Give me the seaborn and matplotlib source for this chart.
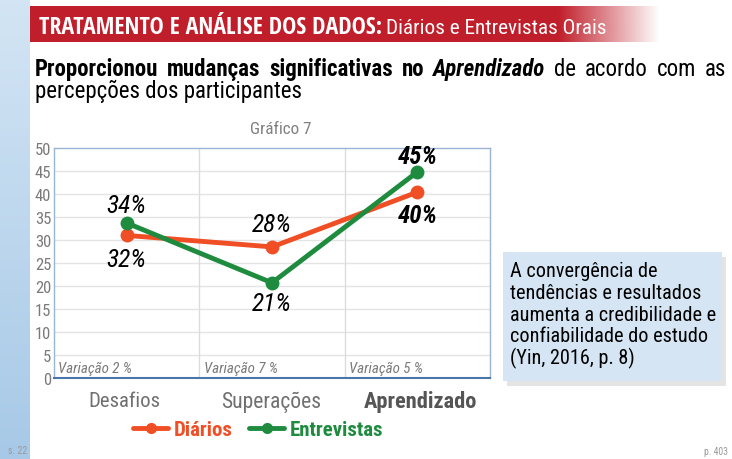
import numpy as np
import pandas as pd
import seaborn as sns
import matplotlib
matplotlib.use("Agg")
import matplotlib.pyplot as plt
from matplotlib.lines import Line2D
from matplotlib.patches import FancyBboxPatch
from matplotlib import font_manager

# ---------------- data ----------------
categories = ["Desafios", "Superações", "Aprendizado"]
diarios = [31.0, 28.5, 40.4]
entrevistas = [33.7, 20.7, 44.8]
diarios_labels = ["32%", "28%", "40%"]
entrevistas_labels = ["34%", "21%", "45%"]
variacao = ["Variação 2 %", "Variação 7 %", "Variação 5 %"]
yticks = [0, 5, 10, 15, 20, 25, 30, 35, 40, 45, 50]

NARROW = "Roboto Condensed"
_names = {f.name for f in font_manager.fontManager.ttflist}
HEAD = "Open Sans Condensed" if "Open Sans Condensed" in _names else "Carlito"

sns.set_theme(style="white")
plt.rcParams["font.family"] = [NARROW, "DejaVu Sans"]

W, H = 732, 460
fig = plt.figure(figsize=(W / 100, H / 100), dpi=100)
fig.patch.set_facecolor("white")
fig.canvas.draw()
R = fig.canvas.get_renderer()


def fx(px):
    return px / W


def fy(py):
    return 1 - py / H


def fit(t, width):
    """scale font size so the text has the given pixel width"""
    w = t.get_window_extent(R).width
    t.set_fontsize(t.get_fontsize() * width / w)
    return t


# left blue strip
strip = fig.add_axes([0, 0, fx(30), 1])
grad = np.linspace(0, 1, 100).reshape(-1, 1)
strip.imshow(grad, aspect="auto", cmap=matplotlib.colors.LinearSegmentedColormap.from_list(
    "s", ["#d3e5f4", "#a7c9e7"]), extent=[0, 1, 0, 1])
strip.axis("off")

# red banner with fade
ban = fig.add_axes([fx(30), fy(43), fx(660 - 30), (43 - 7) / H])
n = 600
rgba = np.zeros((1, n, 4))
rgba[..., 0] = 0xC0 / 255
rgba[..., 1] = 0x1E / 255
rgba[..., 2] = 0x2A / 255
xs = np.linspace(0, 1, n)
alpha = np.where(xs < 0.84, 1, np.clip((1 - xs) / 0.16, 0, 1))
rgba[..., 3] = alpha
ban.imshow(rgba, aspect="auto", extent=[0, 1, 0, 1])
ban.axis("off")

t1 = fig.text(fx(39), fy(34), "TRATAMENTO E ANÁLISE DOS DADOS:", color="white",
              fontsize=15, fontweight="bold", va="baseline", ha="left", family=HEAD)
fit(t1, 343)
t2 = fig.text(fx(386), fy(34), "Diários e Entrevistas Orais", color="white",
              fontsize=15, va="baseline", ha="left")
fit(t2, 221)

# subtitle, justified first line
words = [("Proporcionou", "bold", "normal"), ("mudanças", "bold", "normal"),
         ("significativas", "bold", "normal"), ("no", "bold", "normal"),
         ("Aprendizado", "bold", "italic"), ("de", "normal", "normal"),
         ("acordo", "normal", "normal"), ("com", "normal", "normal"), ("as", "normal", "normal")]
tobjs = []
for w, fw, fs in words:
    t = fig.text(0, fy(76), w, fontsize=16.5, fontweight=fw, fontstyle=fs,
                 color="black", va="baseline", ha="left")
    tobjs.append(t)
fig.canvas.draw()
widths = [t.get_window_extent(R).width for t in tobjs]
x0, x1 = 35, 726
gap = (x1 - x0 - sum(widths)) / (len(words) - 1)
x = x0
for t, wd in zip(tobjs, widths):
    t.set_x(fx(x))
    x += wd + gap
fig.text(fx(35), fy(98), "percepções dos participantes", fontsize=16.5,
         color="black", va="baseline", ha="left")

# ---------------- chart ----------------
ax = fig.add_axes([fx(54), fy(379), fx(490 - 54), (379 - 149) / H])
df = pd.DataFrame({
    "pos": list(range(len(categories))) * 2,
    "valor": diarios + entrevistas,
    "serie": ["Diários"] * 3 + ["Entrevistas"] * 3,
})
palette = {"Diários": "#F04E25", "Entrevistas": "#1E8B3F"}
sns.lineplot(data=df, x="pos", y="valor", hue="serie", palette=palette,
             marker="o", markersize=10, markeredgewidth=0, linewidth=3.5,
             legend=False, ax=ax, zorder=3)
ax.set_xlim(-0.5, 2.5)
ax.set_ylim(0, 50)
ax.set_yticks(yticks)
ax.set_yticklabels([str(v) for v in yticks], color="#7a7a7a", fontsize=12)
ax.set_xticks([])
ax.set_xlabel("")
ax.set_ylabel("")
ax.tick_params(axis="y", length=0, pad=2)
for v in yticks[1:-1]:
    ax.axhline(v, color="#e4e4e4", lw=1, zorder=0)
for v in [0.5, 1.5]:
    ax.axvline(v, color="#dcdcdc", lw=1, zorder=0)
for s in ["top", "right", "left"]:
    ax.spines[s].set_color("#9bb5d8")
    ax.spines[s].set_linewidth(1)
ax.spines["bottom"].set_color("#4a76ad")
ax.spines["bottom"].set_linewidth(1.5)

# data labels (offsets in data units: above / below the point)
above = [3.9, 4.9, 3.5]
below = [-5.1, -4.4, -5.0]
for i in range(3):
    fw = "bold" if i == 2 else "normal"
    if entrevistas[i] >= diarios[i]:
        pairs = [(entrevistas[i] + above[i], entrevistas_labels[i]),
                 (diarios[i] + below[i], diarios_labels[i])]
    else:
        pairs = [(diarios[i] + above[i], diarios_labels[i]),
                 (entrevistas[i] + below[i], entrevistas_labels[i])]
    for yv, lab in pairs:
        t = ax.text(i, yv, lab, ha="center", va="center", fontsize=17,
                    fontstyle="italic", fontweight=fw, color="black")
        fit(t, 40)

for i, v in enumerate(variacao):
    t = ax.text(i - 0.47, 2.2, v, ha="left", va="center", fontsize=10,
                fontstyle="italic", color="#7a7a7a")
    fit(t, 74)

tg = fig.text(fx(281), fy(130), "Gráfico 7", ha="center", va="center",
              fontsize=12, color="#808080")
fit(tg, 62)

# category labels
cat_x = [124, 271, 420]
cat_w = [72, 100, 113]
for c, xp, wd in zip(categories, cat_x, cat_w):
    bold = c == "Aprendizado"
    t = fig.text(fx(xp), fy(402), c, ha="center", va="center", fontsize=13,
                 fontweight="bold" if bold else "normal",
                 color="#555555" if bold else "#707070")
    fit(t, wd)

# legend
handles = [Line2D([0], [0], color=palette["Diários"], lw=3.5, marker="o", markersize=7),
           Line2D([0], [0], color=palette["Entrevistas"], lw=3.5, marker="o", markersize=7)]
leg = fig.legend(handles, ["Diários", "Entrevistas"], loc="center",
                 bbox_to_anchor=(fx(258), fy(431)), ncol=2, frameon=False,
                 prop={"weight": "bold", "size": 15}, handlelength=1.7,
                 handletextpad=0.25, columnspacing=0.8,
                 labelcolor=[palette["Diários"], palette["Entrevistas"]])

# side text box with shadow
bx0, by0, bx1, by1 = 503, 253, 722, 382
shadow = FancyBboxPatch((fx(bx0 + 4), fy(by1 + 5)), fx(bx1 - bx0), (by1 - by0) / H,
                        boxstyle="square,pad=0", transform=fig.transFigure,
                        facecolor="#c4c4c4", edgecolor="none", alpha=0.45, zorder=1)
box = FancyBboxPatch((fx(bx0), fy(by1)), fx(bx1 - bx0), (by1 - by0) / H,
                     boxstyle="square,pad=0", transform=fig.transFigure,
                     facecolor="#d5e5f3", edgecolor="none", zorder=2)
fig.patches.extend([shadow, box])
box_lines = ["A convergência de", "tendências e resultados", "aumenta a credibilidade e",
             "confiabilidade do estudo", "(Yin, 2016, p. 8)"]
probe = fig.text(0, 0, box_lines[2], fontsize=14)
fig.canvas.draw()
pw = probe.get_window_extent(R).width
bsize = 14 * 207 / pw
probe.remove()
for k, line in enumerate(box_lines):
    fig.text(fx(510), fy(277 + 21.8 * k), line, ha="left", va="baseline",
             fontsize=bsize, color="black", zorder=3)

fig.text(fx(8), fy(451), "s. 22", fontsize=7, color="#999999", ha="left", va="center")
fig.text(fx(728), fy(452), "p. 403", fontsize=7, color="#999999", ha="right", va="center")

fig.savefig("out.png", dpi=100, facecolor="white")
